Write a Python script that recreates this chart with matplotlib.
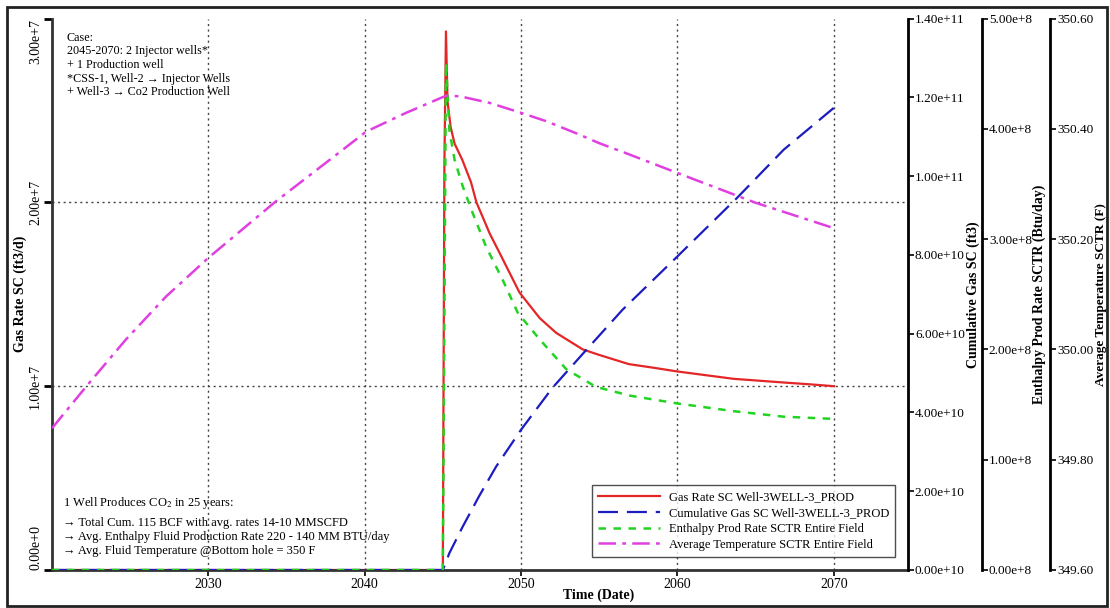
import matplotlib
matplotlib.use("Agg")
import matplotlib.pyplot as plt
from matplotlib.patches import Rectangle

plt.rcParams['font.family'] = ['Liberation Serif', 'DejaVu Serif']
plt.rcParams['mathtext.fontset'] = 'stix'

# ========================= Data =========================
years_rate = [2020.0, 2045.0, 2045.1, 2045.2, 2045.3, 2045.5, 2045.75, 2046.25, 2046.8, 2047.15,
              2048.0, 2048.6, 2049.9, 2051.2, 2052.25, 2053.95, 2055.0, 2056.9, 2058.5, 2060.0,
              2061.8, 2063.6, 2065.2, 2066.8, 2068.5, 2070.0]
gas_rate = [0, 0, 2.20e7, 2.93e7, 2.55e7, 2.41e7, 2.32e7, 2.23e7, 2.11e7, 2.00e7,
            1.83e7, 1.73e7, 1.51e7, 1.37e7, 1.29e7, 1.20e7, 1.17e7, 1.12e7, 1.10e7, 1.08e7,
            1.06e7, 1.04e7, 1.03e7, 1.02e7, 1.01e7, 1.00e7]

years_cum = [2020.0, 2045.0, 2045.42, 2046.27, 2047.3, 2048.4, 2050.0, 2052.0, 2054.0, 2056.5,
             2060.0, 2063.8, 2066.8, 2070.0]
cum_gas = [0, 0, 0.43e10, 1.10e10, 1.86e10, 2.62e10, 3.56e10, 4.62e10, 5.51e10, 6.61e10,
           7.96e10, 9.44e10, 10.67e10, 11.73e10]

years_enth = [2020.0, 2045.0, 2045.2, 2045.42, 2045.75, 2046.27, 2046.9, 2047.77, 2048.83, 2049.8,
              2051.2, 2052.9, 2054.8, 2057.0, 2060.0, 2063.6, 2066.8, 2070.0]
enthalpy = [0, 0, 4.60e8, 3.99e8, 3.72e8, 3.48e8, 3.24e8, 2.93e8, 2.63e8, 2.33e8,
            2.09e8, 1.82e8, 1.66e8, 1.58e8, 1.51e8, 1.44e8, 1.39e8, 1.37e8]

years_temp = [2020.0, 2022.2, 2024.7, 2027.3, 2030.0, 2034.3, 2037.5, 2040.1, 2042.65, 2045.2,
              2046.1, 2048.0, 2050.0, 2051.6, 2053.7, 2055.0, 2056.7, 2060.0, 2065.0, 2070.0]
temperature = [349.857, 349.933, 350.017, 350.096, 350.166, 350.268, 350.338, 350.395, 350.429, 350.46,
               350.459, 350.447, 350.429, 350.414, 350.39, 350.374, 350.356, 350.32, 350.266, 350.22]

x_ticks = [2030, 2040, 2050, 2060, 2070]
rate_ticks = [0, 1e7, 2e7, 3e7]
rate_labels = ["0.00e+0", "1.00e+7", "2.00e+7", "3.00e+7"]
cum_ticks = [0, 2e10, 4e10, 6e10, 8e10, 1e11, 1.2e11, 1.4e11]
cum_labels = ["0.00e+10", "2.00e+10", "4.00e+10", "6.00e+10", "8.00e+10", "1.00e+11", "1.20e+11", "1.40e+11"]
enth_ticks = [0, 1e8, 2e8, 3e8, 4e8, 5e8]
enth_labels = ["0.00e+8", "1.00e+8", "2.00e+8", "3.00e+8", "4.00e+8", "5.00e+8"]
temp_ticks = [349.6, 349.8, 350.0, 350.2, 350.4, 350.6]
temp_labels = ["349.60", "349.80", "350.00", "350.20", "350.40", "350.60"]

names = ["Gas Rate SC Well-3WELL-3_PROD", "Cumulative Gas SC Well-3WELL-3_PROD",
         "Enthalpy Prod Rate SCTR Entire Field", "Average Temperature SCTR Entire Field"]

# ========================= Figure =========================
fig = plt.figure(figsize=(11.1, 6.08), dpi=100)
ax = fig.add_axes([0.0468, 0.0625, 0.7712, 0.907])
ax2 = ax.twinx()
ax3 = ax.twinx()
ax4 = ax.twinx()

l1, = ax.plot(years_rate, gas_rate, color='#e32626', lw=1.6, label=names[0])
l2, = ax2.plot(years_cum, cum_gas, color='#1c1cc0', lw=1.6, dashes=(9, 4), label=names[1])
l3, = ax3.plot(years_enth, enthalpy, color='#22d322', lw=1.8, dashes=(3, 3), label=names[2])
l4, = ax4.plot(years_temp, temperature, color='#e040e0', lw=1.8, dashes=(7, 2.5, 1.5, 2.5), label=names[3])

ax.set_xlim(2020, 2074.75)
ax.set_ylim(0, 3e7)
ax2.set_ylim(0, 1.4e11)
ax3.set_ylim(0, 5e8)
ax4.set_ylim(349.6, 350.6)

# left axis
ax.set_xticks(x_ticks)
ax.set_xticklabels([str(t) for t in x_ticks], fontsize=10)
ax.set_yticks(rate_ticks)
ax.set_yticklabels(rate_labels, fontsize=10)
for i, lab in enumerate(ax.get_yticklabels()):
    lab.set_rotation(90)
    lab.set_ha('right')
    if i == 0:
        lab.set_va('bottom')
    elif i == len(rate_ticks) - 1:
        lab.set_va('top')
    else:
        lab.set_va('center')
ax.tick_params(axis='y', length=6, width=2, pad=1)
ax.tick_params(axis='x', length=4, width=1.2, pad=2)
ax.grid(True, linestyle=(0, (1.5, 2.5)), color='#444444', lw=1.0)
ax.get_ygridlines()[-1].set_visible(False)
ax.set_axisbelow(True)
ax.set_ylabel("Gas Rate SC (ft3/d)", fontsize=10, fontweight='bold')
ax.yaxis.set_label_coords(-0.029, 0.5)
ax.set_xlabel("Time (Date)", fontsize=10, fontweight='bold')
ax.xaxis.set_label_coords(0.639, -0.034)

for a in [ax, ax2, ax3, ax4]:
    a.spines['top'].set_visible(False)
ax.spines['left'].set_linewidth(2)
ax.spines['left'].set_color('#333333')
ax.spines['bottom'].set_linewidth(2)
ax.spines['bottom'].set_color('#333333')
ax.spines['right'].set_visible(False)
for a in [ax2, ax3, ax4]:
    a.spines['left'].set_visible(False)
    a.spines['bottom'].set_visible(False)

# cumulative axis
ax2.set_yticks(cum_ticks)
ax2.set_yticklabels(cum_labels, fontsize=9.5)
ax2.spines['right'].set_linewidth(2)
ax2.tick_params(axis='y', length=4, width=1.2, pad=1)
ax2.set_ylabel("Cumulative Gas SC (ft3)", fontsize=10, fontweight='bold')
ax2.yaxis.set_label_coords(1.068, 0.5)

# enthalpy axis
ax3.spines['right'].set_position(('axes', 1.0864))
ax3.spines['right'].set_linewidth(2)
ax3.set_yticks(enth_ticks)
ax3.set_yticklabels(enth_labels, fontsize=9.5)
ax3.tick_params(axis='y', length=4, width=1.2, pad=1)
ax3.set_ylabel("Enthalpy Prod Rate SCTR (Btu/day)", fontsize=10, fontweight='bold')
ax3.yaxis.set_label_coords(1.146, 0.5)

# temperature axis
ax4.spines['right'].set_position(('axes', 1.166))
ax4.spines['right'].set_linewidth(2)
ax4.set_yticks(temp_ticks)
ax4.set_yticklabels(temp_labels, fontsize=9.5)
ax4.tick_params(axis='y', length=4, width=1.2, pad=1)
ax4.set_ylabel("Average Temperature SCTR (F)", fontsize=9.5, fontweight='bold')
ax4.yaxis.set_label_coords(1.219, 0.5)

# notes
ax.text(0.0175, 0.976, "Case:\n2045-2070: 2 Injector wells*\n+ 1 Production well\n"
        "*CSS-1, Well-2 \u2192 Injector Wells\n+ Well-3 \u2192 Co2 Production Well",
        transform=ax.transAxes, fontsize=8.7, va='top', ha='left', linespacing=1.18)
ax.text(0.013, 0.107, "1 Well Produces CO$_2$ in 25 years:",
        transform=ax.transAxes, fontsize=9, va='bottom', ha='left')
ax.text(0.013, 0.024, "\u2192 Total Cum. 115 BCF with avg. rates 14-10 MMSCFD\n"
        "\u2192 Avg. Enthalpy Fluid Production Rate 220 - 140 MM BTU/day\n"
        "\u2192 Avg. Fluid Temperature @Bottom hole = 350 F",
        transform=ax.transAxes, fontsize=9, va='bottom', ha='left', linespacing=1.23)

leg = ax4.legend(handles=[l1, l2, l3, l4], loc='lower right', bbox_to_anchor=(0.985, 0.0236),
                 fontsize=9, frameon=True, fancybox=False, handlelength=5.0,
                 labelspacing=0.3, borderpad=0.5, handletextpad=0.65, borderaxespad=0)
leg.get_frame().set_edgecolor('#222222')
leg.get_frame().set_linewidth(1.0)

# outer border
fig.patches.append(Rectangle((0.0065, 0.004), 0.991, 0.984, transform=fig.transFigure,
                             fill=False, edgecolor='#222222', lw=2))

fig.savefig("out.png", dpi=100)
